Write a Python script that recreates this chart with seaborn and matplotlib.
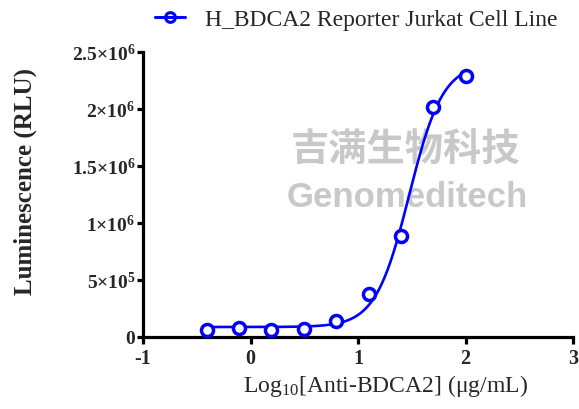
import numpy as np
import pandas as pd
import matplotlib
matplotlib.use("Agg")
import matplotlib.pyplot as plt
from matplotlib.lines import Line2D
from matplotlib.ticker import FixedLocator, FixedFormatter
import seaborn as sns

# ---- data ----
log_conc = [-0.408, -0.107, 0.194, 0.495, 0.796, 1.097, 1.398, 1.699, 2.0]
rlu = [58000, 79000, 60000, 73000, 137000, 380000, 889000, 2020000, 2290000]
series_name = "H_BDCA2 Reporter Jurkat Cell Line"
x_ticks = [-1, 0, 1, 2, 3]
x_tick_labels = ["-1", "0", "1", "2", "3"]
y_ticks = [0, 500000, 1000000, 1500000, 2000000, 2500000]
y_tick_labels = ["0", "5×10$^{\\mathbf{5}}$", "1×10$^{\\mathbf{6}}$", "1.5×10$^{\\mathbf{6}}$",
                 "2×10$^{\\mathbf{6}}$", "2.5×10$^{\\mathbf{6}}$"]

df = pd.DataFrame({"x": log_conc, "y": rlu})

# ---- 4PL fit of the data (grid search + linear least squares) ----
xa = np.asarray(log_conc, float)
ya = np.asarray(rlu, float)
best = None
for c in np.linspace(0.8, 2.2, 281):
    for h in np.linspace(0.5, 5.0, 181):
        s = 1.0 / (1.0 + 10 ** ((c - xa) * h))
        A = np.column_stack([1 - s, s])
        coef, *_ = np.linalg.lstsq(A, ya, rcond=None)
        sse = np.sum((A @ coef - ya) ** 2)
        if best is None or sse < best[0]:
            best = (sse, coef[0], coef[1], c, h)
_, bot, top, ec50, hill = best
xf = np.linspace(xa.min(), xa.max(), 400)
yf = bot + (top - bot) / (1 + 10 ** ((ec50 - xf) * hill))
fit_df = pd.DataFrame({"x": xf, "y": yf})

# ---- style ----
sns.set_theme(style="ticks")
plt.rcParams["font.family"] = ["Liberation Serif", "DejaVu Serif"]
plt.rcParams["mathtext.fontset"] = "custom"
plt.rcParams["mathtext.rm"] = "Liberation Serif"
plt.rcParams["mathtext.bf"] = "Liberation Serif:bold"
plt.rcParams["mathtext.it"] = "Liberation Serif:italic"

blue = "#0000FF"
fig = plt.figure(figsize=(5.79, 4.10), dpi=100)
ax = fig.add_axes([0.247, 0.176, 0.743, 0.695])
ax.set_facecolor("none")

# watermark
ax.text(406 / 579, 1 - 150 / 410, "吉满生物科技", transform=fig.transFigure,
        family=["Noto Sans CJK SC", "DejaVu Sans"], fontweight="bold", fontsize=27.5,
        color="#c8c8c8", ha="center", va="center", zorder=0.5)
ax.text(407 / 579, 1 - 198 / 410, "Genomeditech", transform=fig.transFigure,
        family=["Liberation Sans", "DejaVu Sans"], fontweight="bold", fontsize=25,
        color="#c8c8c8", ha="center", va="center", zorder=0.5)

sns.lineplot(data=fit_df, x="x", y="y", ax=ax, color=blue, linewidth=1.9, zorder=3)
sns.scatterplot(data=df, x="x", y="y", ax=ax, marker="o", s=75, facecolor="white",
                edgecolor=blue, linewidth=2.5, zorder=4, clip_on=False)

ax.set_xlim(-1, 3)
ax.set_ylim(0, 2500000)
ax.xaxis.set_major_locator(FixedLocator(x_ticks))
ax.xaxis.set_major_formatter(FixedFormatter(x_tick_labels))
ax.yaxis.set_major_locator(FixedLocator(y_ticks))
ax.yaxis.set_major_formatter(FixedFormatter(y_tick_labels))

for side in ["top", "right"]:
    ax.spines[side].set_visible(False)
for side in ["left", "bottom"]:
    ax.spines[side].set_linewidth(2.3)
    ax.spines[side].set_color("black")
ax.tick_params(axis="x", direction="out", length=5, width=2.3, color="black",
               labelsize=14.5, pad=3)
ax.tick_params(axis="y", direction="out", length=4.5, width=2.3, color="black",
               labelsize=14, pad=1)
for lab in ax.get_xticklabels() + ax.get_yticklabels():
    lab.set_fontweight("bold")

ax.set_xlabel("Log$_{\\mathrm{10}}$[Anti-BDCA2] (μg/mL)", fontsize=17)
ax.set_ylabel("Luminescence (RLU)", fontsize=18, fontweight="bold")
ax.xaxis.set_label_coords(0.563, -0.125)
ax.yaxis.set_label_coords(-0.2465, 0.547)

handle = Line2D([], [], color=blue, linewidth=2.2, marker="o", markersize=7,
                markerfacecolor="none", markeredgecolor=blue, markeredgewidth=2.2)
ax.legend([handle], [series_name], loc="center left",
          bbox_to_anchor=(155 / 579, 1 - 20 / 410), bbox_transform=fig.transFigure,
          frameon=False, fontsize=17, handlelength=1.25, handletextpad=0.85,
          borderpad=0, borderaxespad=0)

fig.savefig("out.png", dpi=100)
